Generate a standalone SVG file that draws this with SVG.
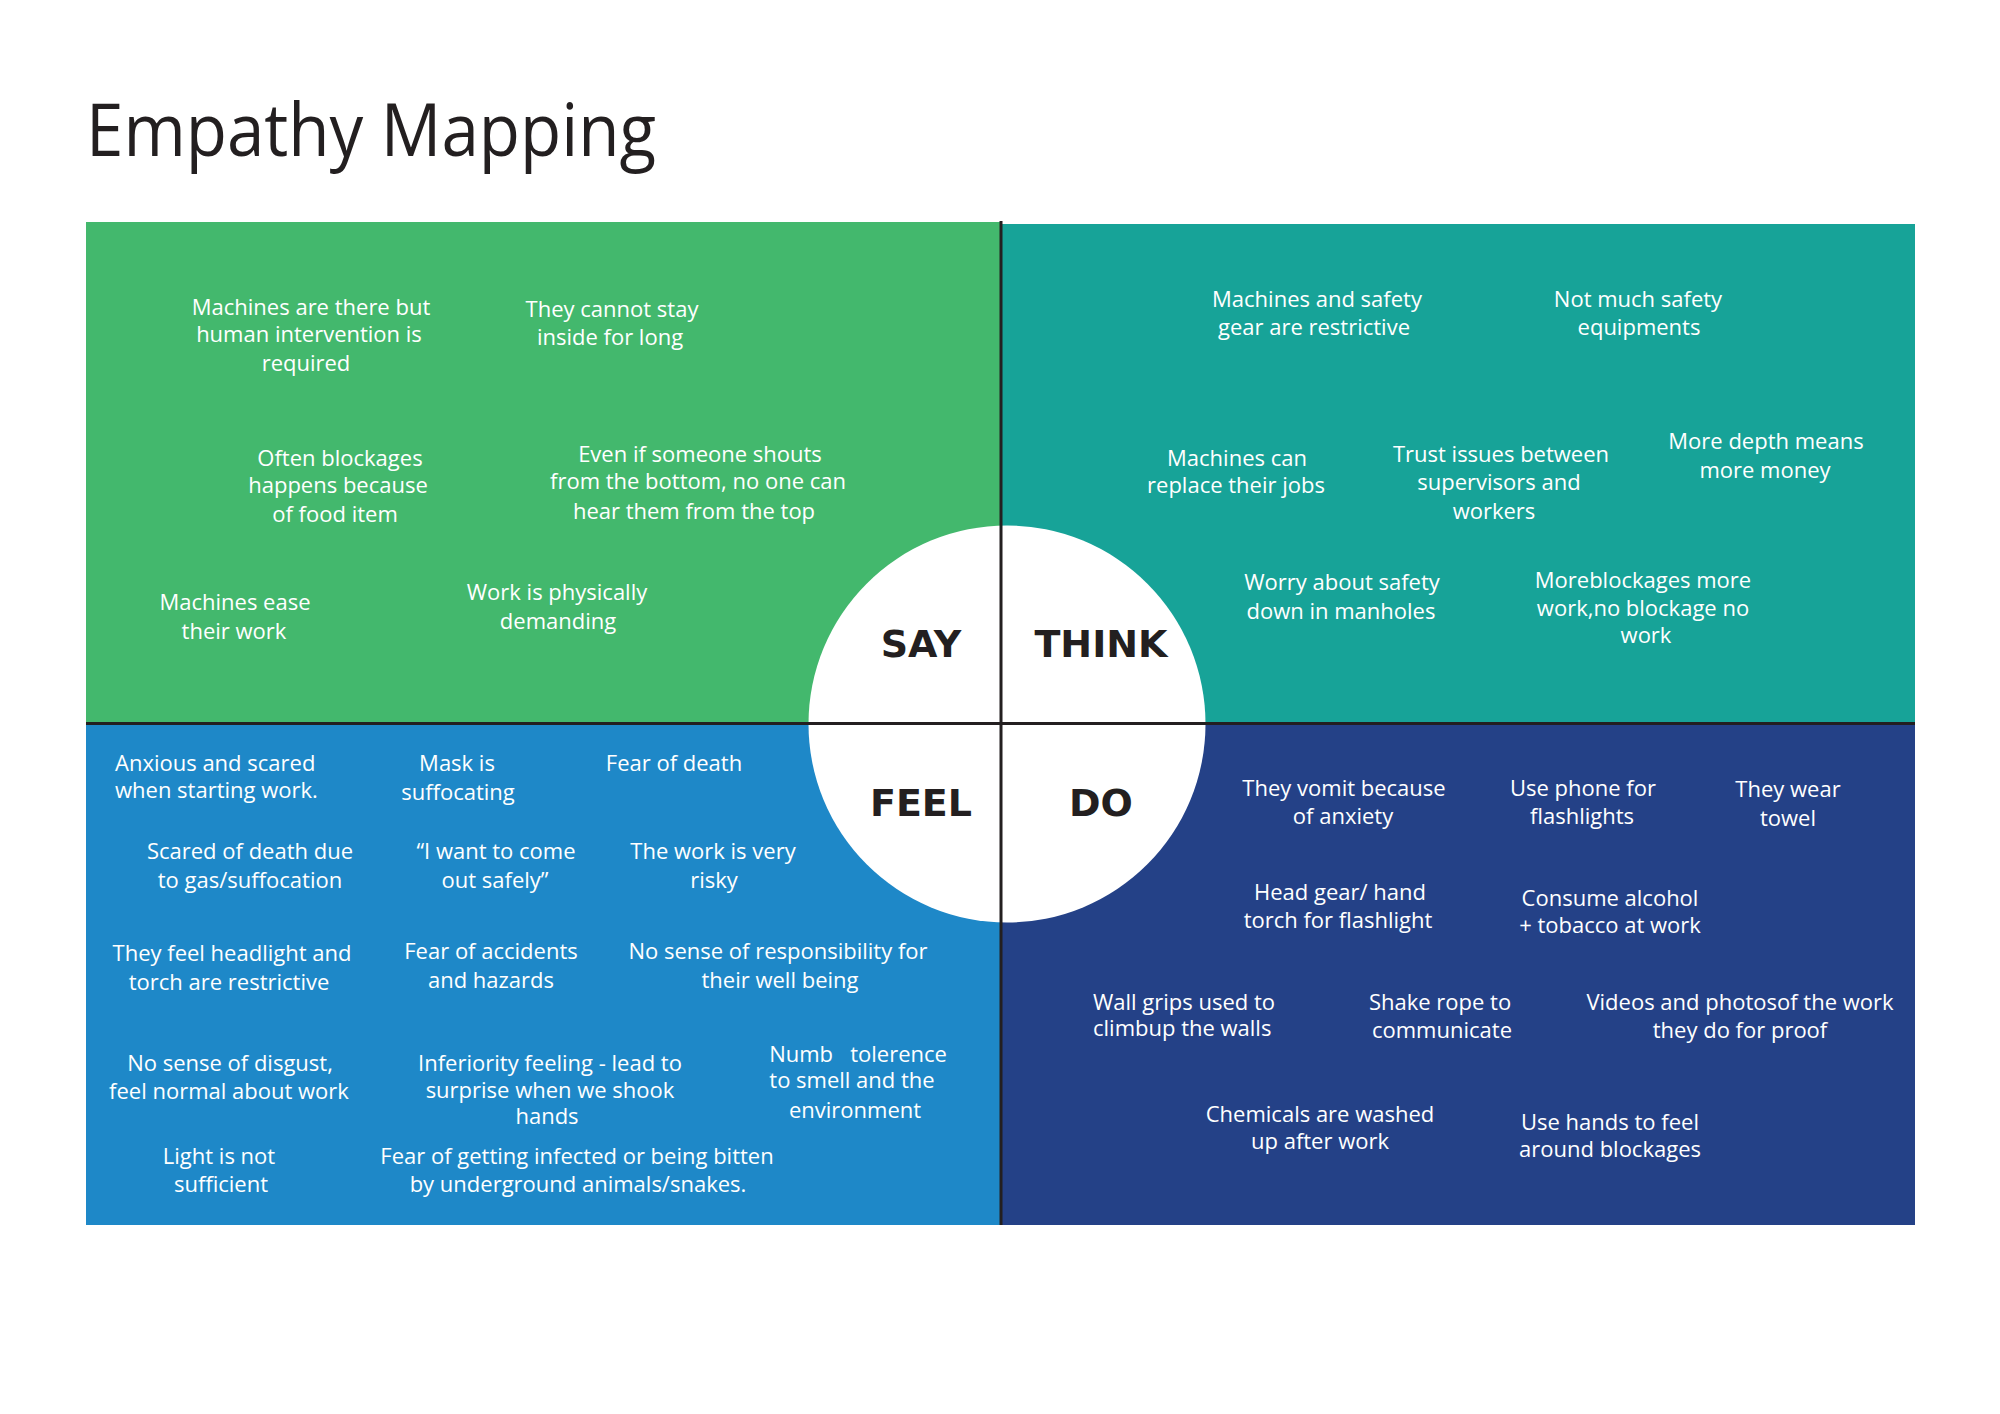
<svg xmlns="http://www.w3.org/2000/svg" width="2000" height="1414" viewBox="0 0 2000 1414">
<style>
.t{font-family:"Open Sans","Noto Sans",sans-serif;font-size:22px;fill:#ffffff;text-anchor:middle}
.l{text-anchor:start}
.lab{font-family:"DejaVu Sans","Liberation Sans",sans-serif;font-weight:bold;font-size:38px;fill:#231f20;text-anchor:middle}
.title{font-family:"Open Sans","Noto Sans",sans-serif;font-size:74px;fill:#231f20}
.ln{stroke:#231f20;stroke-width:3;fill:none}
</style>
<rect width="2000" height="1414" fill="#ffffff"/>
<text class="title" x="86" y="156" textLength="570" lengthAdjust="spacingAndGlyphs">Empathy Mapping</text>

<g id="say">
<rect x="86" y="222" width="915" height="501" fill="#43b86d"/>
</g>
<g id="think">
<rect x="1001" y="224" width="914" height="499" fill="#17a398"/>
</g>
<g id="feel">
<rect x="86" y="723" width="915" height="502" fill="#1e88c8"/>
</g>
<g id="do">
<rect x="1001" y="723" width="914" height="502" fill="#244187"/>
</g>

<g id="center">
<circle cx="1007" cy="724" r="198.5" fill="#ffffff"/>
</g>

<g id="connectors">
<line class="ln" x1="1001" y1="221" x2="1001" y2="1225"/>
<line class="ln" x1="86" y1="723.5" x2="1915" y2="723.5"/>
</g>

<g id="labels">
<text class="lab" x="921" y="657">SAY</text>
<text class="lab" x="1101" y="657">THINK</text>
<text class="lab" x="921" y="816">FEEL</text>
<text class="lab" x="1101" y="816">DO</text>
</g>

<g id="say-notes">
<g id="s1"><text class="t" x="311" y="315">Machines are there but</text><text class="t" x="309" y="342">human intervention is</text><text class="t" x="306" y="371">required</text></g>
<g id="s2"><text class="t" x="612" y="317">They cannot stay</text><text class="t" x="610" y="345">inside for long</text></g>
<g id="s3"><text class="t" x="340" y="466">Often blockages</text><text class="t" x="338" y="493">happens because</text><text class="t" x="335" y="522">of food item</text></g>
<g id="s4"><text class="t" x="700" y="462">Even if someone shouts</text><text class="t" x="698" y="489">from the bottom, no one can</text><text class="t" x="694" y="519">hear them from the top</text></g>
<g id="s5"><text class="t" x="235" y="610">Machines ease</text><text class="t" x="234" y="639">their work</text></g>
<g id="s6"><text class="t" x="557" y="600">Work is physically</text><text class="t" x="558" y="629">demanding</text></g>
</g>

<g id="think-notes">
<g id="t1"><text class="t" x="1317" y="307">Machines and safety</text><text class="t" x="1314" y="335">gear are restrictive</text></g>
<g id="t2"><text class="t" x="1638" y="307">Not much safety</text><text class="t" x="1639" y="335">equipments</text></g>
<g id="t3"><text class="t" x="1237" y="466">Machines can</text><text class="t" x="1236" y="493">replace their jobs</text></g>
<g id="t4"><text class="t" x="1501" y="462">Trust issues between</text><text class="t" x="1499" y="490">supervisors and</text><text class="t" x="1494" y="519">workers</text></g>
<g id="t5"><text class="t" x="1766" y="449">More depth means</text><text class="t" x="1765" y="478">more money</text></g>
<g id="t6"><text class="t" x="1342" y="590">Worry about safety</text><text class="t" x="1341" y="619">down in manholes</text></g>
<g id="t7"><text class="t" x="1643" y="588">Moreblockages more</text><text class="t" x="1643" y="616">work,no blockage no</text><text class="t" x="1646" y="643">work</text></g>
</g>

<g id="feel-notes">
<g id="f1"><text class="t l" x="115" y="771">Anxious and scared</text><text class="t l" x="115" y="798">when starting work.</text></g>
<g id="f2"><text class="t" x="457" y="771">Mask is</text><text class="t" x="458" y="800">suffocating</text></g>
<g id="f3"><text class="t" x="674" y="771">Fear of death</text></g>
<g id="f4"><text class="t" x="250" y="859">Scared of death due</text><text class="t" x="250" y="888">to gas/suffocation</text></g>
<g id="f5"><text class="t" x="496" y="859">“I want to come</text><text class="t" x="495" y="888">out safely”</text></g>
<g id="f6"><text class="t" x="713" y="859">The work is very</text><text class="t" x="714" y="888">risky</text></g>
<g id="f7"><text class="t" x="232" y="961">They feel headlight and</text><text class="t" x="229" y="990">torch are restrictive</text></g>
<g id="f8"><text class="t" x="491" y="959">Fear of accidents</text><text class="t" x="491" y="988">and hazards</text></g>
<g id="f9"><text class="t" x="778" y="959">No sense of responsibility for</text><text class="t" x="780" y="988">their well being</text></g>
<g id="f10"><text class="t" x="230" y="1071">No sense of disgust,</text><text class="t" x="229" y="1099">feel normal about work</text></g>
<g id="f11"><text class="t" x="550" y="1071">Inferiority feeling - lead to</text><text class="t" x="550" y="1098">surprise when we shook</text><text class="t" x="547" y="1124">hands</text></g>
<g id="f12"><text class="t" x="858" y="1062" style="white-space:pre">Numb   tolerence</text><text class="t" x="852" y="1088">to smell and the</text><text class="t" x="855" y="1118">environment</text></g>
<g id="f13"><text class="t" x="219" y="1164">Light is not</text><text class="t" x="221" y="1192">sufficient</text></g>
<g id="f14"><text class="t" x="577" y="1164">Fear of getting infected or being bitten</text><text class="t" x="578" y="1192">by underground animals/snakes.</text></g>
</g>

<g id="do-notes">
<g id="d1"><text class="t" x="1344" y="796">They vomit because</text><text class="t" x="1343" y="824">of anxiety</text></g>
<g id="d2"><text class="t" x="1583" y="796">Use phone for</text><text class="t" x="1582" y="824">flashlights</text></g>
<g id="d3"><text class="t" x="1788" y="797">They wear</text><text class="t" x="1788" y="826">towel</text></g>
<g id="d4"><text class="t" x="1340" y="900">Head gear/ hand</text><text class="t" x="1338" y="928">torch for flashlight</text></g>
<g id="d5"><text class="t" x="1610" y="906">Consume alcohol</text><text class="t" x="1610" y="933">+ tobacco at work</text></g>
<g id="d6"><text class="t l" x="1093" y="1010">Wall grips used to</text><text class="t l" x="1093" y="1036">climbup the walls</text></g>
<g id="d7"><text class="t" x="1440" y="1010">Shake rope to</text><text class="t" x="1442" y="1038">communicate</text></g>
<g id="d8"><text class="t" x="1740" y="1010">Videos and photosof the work</text><text class="t" x="1740" y="1038">they do for proof</text></g>
<g id="d9"><text class="t" x="1320" y="1122">Chemicals are washed</text><text class="t" x="1320" y="1149">up after work</text></g>
<g id="d10"><text class="t" x="1610" y="1130">Use hands to feel</text><text class="t" x="1610" y="1157">around blockages</text></g>
</g>
</svg>
